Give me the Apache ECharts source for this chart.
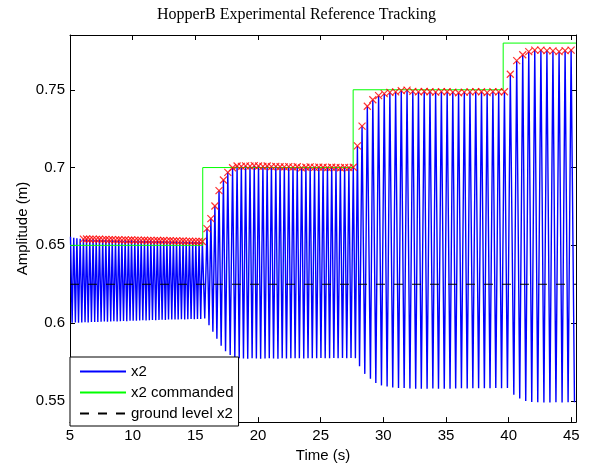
<!DOCTYPE html>
<html>
<head>
<meta charset="utf-8">
<script src="https://cdn.jsdelivr.net/npm/echarts@6/dist/echarts.min.js"></script>
<style>
  html, body { margin: 0; padding: 0; background: #ffffff; }
  #chart { width: 593px; height: 468px; }
</style>
</head>
<body>
<div id="chart"></div>
<script>
// ---- Axis ticks ----
const xTicks = [5, 10, 15, 20, 25, 30, 35, 40, 45];
const yTicks = [0.55, 0.6, 0.65, 0.7, 0.75];
const xStart = 5;
const xEnd = 45.37;
const yLow = 0.5364;
const yHigh = 0.7852;

// ---- Commanded height (step reference) ----
const cmdTimes  = [5, 15.59, 27.59, 39.56, 45.37];
const cmdLevels = [0.65, 0.70, 0.75, 0.78, 0.78];

// ---- Ground level ----
const groundLevel = 0.625;

// ---- Hop cycles, segment 1 (command 0.65) ----
const hop1PeakT = [5.04, 5.30, 5.55, 5.81, 6.07, 6.32, 6.58, 6.84, 7.09, 7.35,
  7.61, 7.86, 8.12, 8.37, 8.63, 8.89, 9.14, 9.40, 9.66, 9.91,
  10.17, 10.43, 10.68, 10.94, 11.20, 11.45, 11.71, 11.97, 12.22, 12.48,
  12.73, 12.99, 13.25, 13.50, 13.76, 14.02, 14.27, 14.53, 14.79, 15.04,
  15.30, 15.56];
const hop1PeakV = [0.6555, 0.6548, 0.6545, 0.6542, 0.6540, 0.6541, 0.6539, 0.6540, 0.6538, 0.6539,
  0.6537, 0.6538, 0.6536, 0.6537, 0.6535, 0.6536, 0.6534, 0.6535, 0.6533, 0.6535,
  0.6533, 0.6534, 0.6532, 0.6533, 0.6531, 0.6532, 0.6530, 0.6531, 0.6530, 0.6531,
  0.6529, 0.6530, 0.6528, 0.6529, 0.6527, 0.6528, 0.6526, 0.6527, 0.6526, 0.6525,
  0.6526, 0.6525];
const hop1TroughT = [5.17, 5.43, 5.68, 5.94, 6.20, 6.45, 6.71, 6.97, 7.22, 7.48,
  7.74, 7.99, 8.25, 8.50, 8.76, 9.02, 9.27, 9.53, 9.79, 10.04,
  10.30, 10.56, 10.81, 11.07, 11.33, 11.58, 11.84, 12.10, 12.35, 12.61,
  12.86, 13.12, 13.38, 13.63, 13.89, 14.15, 14.40, 14.66, 14.92, 15.17,
  15.43, 15.75];
const hop1TroughV = [0.6002, 0.6004, 0.6003, 0.6005, 0.6006, 0.6005, 0.6007, 0.6008, 0.6007, 0.6009,
  0.6010, 0.6009, 0.6011, 0.6012, 0.6011, 0.6013, 0.6014, 0.6013, 0.6015, 0.6016,
  0.6015, 0.6017, 0.6018, 0.6017, 0.6019, 0.6020, 0.6019, 0.6021, 0.6022, 0.6021,
  0.6023, 0.6024, 0.6023, 0.6024, 0.6025, 0.6024, 0.6025, 0.6026, 0.6025, 0.6026,
  0.6027, 0.6030];

// ---- Hop cycles, segment 2 (command 0.70) ----
const hop2PeakT = [15.93, 16.24, 16.56, 16.89, 17.24, 17.59, 17.97, 18.33,
  18.67, 19.01, 19.36, 19.70, 20.04, 20.39, 20.73, 21.07, 21.42, 21.76,
  22.10, 22.45, 22.79, 23.13, 23.48, 23.82, 24.16, 24.51, 24.85, 25.19,
  25.54, 25.88, 26.22, 26.57, 26.91, 27.25, 27.60];
const hop2PeakV = [0.6608, 0.6672, 0.6753, 0.6852, 0.6920, 0.6969, 0.6999, 0.7010,
  0.7008, 0.7011, 0.7009, 0.7012, 0.7010, 0.7008, 0.7010, 0.7006, 0.7008, 0.7005,
  0.7004, 0.7006, 0.7003, 0.7005, 0.6998, 0.7002, 0.7004, 0.7001, 0.7003, 0.7002,
  0.7000, 0.7002, 0.7001, 0.6999, 0.7001, 0.7000, 0.7002];
const hop2TroughT = [16.09, 16.40, 16.72, 17.06, 17.41, 17.78, 18.15, 18.50,
  18.84, 19.18, 19.53, 19.87, 20.21, 20.56, 20.90, 21.24, 21.59, 21.93,
  22.27, 22.62, 22.96, 23.30, 23.65, 23.99, 24.33, 24.68, 25.02, 25.36,
  25.71, 26.05, 26.39, 26.74, 27.08, 27.42, 27.77];
const hop2TroughV = [0.5987, 0.5944, 0.5900, 0.5855, 0.5820, 0.5795, 0.5780, 0.5774,
  0.5773, 0.5772, 0.5774, 0.5773, 0.5772, 0.5773, 0.5774, 0.5773, 0.5772, 0.5774,
  0.5773, 0.5774, 0.5775, 0.5774, 0.5773, 0.5775, 0.5774, 0.5775, 0.5776, 0.5775,
  0.5774, 0.5776, 0.5775, 0.5776, 0.5775, 0.5776, 0.5775];

// ---- Hop cycles, segment 3 (command 0.75) ----
const hop3PeakT = [27.93, 28.30, 28.72, 29.16, 29.62, 30.07, 30.52, 30.98, 31.43, 31.89,
  32.35, 32.80, 33.26, 33.72, 34.17, 34.63, 35.09, 35.54, 36.00, 36.46,
  36.91, 37.37, 37.83, 38.28, 38.74, 39.20, 39.66];
const hop3PeakV = [0.7139, 0.7266, 0.7394, 0.7436, 0.7462, 0.7475, 0.7483, 0.7486, 0.7494, 0.7498,
  0.7490, 0.7486, 0.7489, 0.7487, 0.7485, 0.7488, 0.7487, 0.7485, 0.7481, 0.7485,
  0.7486, 0.7488, 0.7487, 0.7482, 0.7488, 0.7486, 0.7487];
const hop3TroughT = [28.10, 28.52, 28.97, 29.40, 29.85, 30.30, 30.75, 31.21, 31.66, 32.12,
  32.58, 33.03, 33.49, 33.95, 34.40, 34.86, 35.32, 35.77, 36.23, 36.69,
  37.14, 37.60, 38.06, 38.51, 38.97, 39.43, 39.90];
const hop3TroughV = [0.5723, 0.5674, 0.5642, 0.5615, 0.5600, 0.5593, 0.5587, 0.5584, 0.5584, 0.5580,
  0.5579, 0.5578, 0.5579, 0.5580, 0.5579, 0.5578, 0.5579, 0.5580, 0.5581, 0.5580,
  0.5581, 0.5582, 0.5581, 0.5582, 0.5583, 0.5582, 0.5583];

// ---- Hop cycles, segment 4 (command 0.78) ----
const hop4PeakT = [40.13, 40.64, 41.12, 41.60, 42.08, 42.57, 43.05, 43.53, 44.02, 44.50, 44.98];
const hop4PeakV = [0.7600, 0.7687, 0.7725, 0.7745, 0.7755, 0.7755, 0.7752, 0.7750, 0.7745, 0.7752, 0.7755];
const hop4TroughT = [40.41, 40.88, 41.36, 41.84, 42.32, 42.81, 43.29, 43.77, 44.26, 44.74, 45.25];
const hop4TroughV = [0.5540, 0.5516, 0.5500, 0.5493, 0.5491, 0.5490, 0.5490, 0.5491, 0.5490, 0.5491, 0.5492];

// Peaks are flagged with a marker from this time on
const markFrom = 6.0;

// ---- Build series data ----
const segments = [
  [hop1PeakT, hop1PeakV, hop1TroughT, hop1TroughV],
  [hop2PeakT, hop2PeakV, hop2TroughT, hop2TroughV],
  [hop3PeakT, hop3PeakV, hop3TroughT, hop3TroughV],
  [hop4PeakT, hop4PeakV, hop4TroughT, hop4TroughV]
];

const x2Data = [];
const peakMarks = [];
segments.forEach(([pt, pv, tt, tv]) => {
  for (let i = 0; i < pt.length; i++) {
    x2Data.push([pt[i], pv[i]]);
    x2Data.push([tt[i], tv[i]]);
    if (pt[i] >= markFrom) peakMarks.push([pt[i], pv[i]]);
  }
});

const cmdData = cmdTimes.map((t, i) => [t, cmdLevels[i]]);
const groundData = [[xStart, groundLevel], [xEnd, groundLevel]];

const SANS = 'Liberation Sans, Arial, Helvetica, sans-serif';
const SERIF = 'Liberation Serif, Times New Roman, serif';
const AXIS_COLOR = '#000000';
const BLUE = '#0000ff';
const GREEN = '#00ff00';
const BLACK = '#000000';

const chart = echarts.init(document.getElementById('chart'), null, { renderer: 'canvas' });

function boxAxis(extra) {
  return Object.assign({
    type: 'value',
    axisLine: { show: true, onZero: false, lineStyle: { color: AXIS_COLOR, width: 1 } },
    splitLine: { show: false }
  }, extra);
}

chart.setOption({
  animation: false,
  backgroundColor: '#ffffff',
  title: {
    text: 'HopperB Experimental Reference Tracking',
    left: 'center',
    top: 2,
    textStyle: { fontFamily: SERIF, fontSize: 16, fontWeight: 'normal', color: '#000' }
  },
  grid: { left: 70, top: 35, width: 506, height: 390, containLabel: false },
  xAxis: [
    boxAxis({
      min: xStart, max: xEnd, position: 'bottom',
      axisTick: { show: true, inside: true, length: 5, customValues: xTicks, lineStyle: { color: AXIS_COLOR } },
      axisLabel: { show: true, customValues: xTicks, margin: 6, color: '#000', fontSize: 15, fontFamily: SANS },
      name: 'Time (s)', nameLocation: 'middle', nameGap: 23,
      nameTextStyle: { color: '#000', fontSize: 15, fontFamily: SANS }
    }),
    boxAxis({
      min: xStart, max: xEnd, position: 'top',
      axisTick: { show: true, inside: true, length: 5, customValues: xTicks, lineStyle: { color: AXIS_COLOR } },
      axisLabel: { show: false }
    })
  ],
  yAxis: [
    boxAxis({
      min: yLow, max: yHigh, position: 'left',
      axisTick: { show: true, inside: true, length: 5, customValues: yTicks, lineStyle: { color: AXIS_COLOR } },
      axisLabel: { show: true, customValues: yTicks, margin: 5, color: '#000', fontSize: 15, fontFamily: SANS },
      name: 'Amplitude (m)', nameLocation: 'middle', nameGap: 40, nameMoveOverlap: false,
      nameTextStyle: { color: '#000', fontSize: 15, fontFamily: SANS }
    }),
    boxAxis({
      min: yLow, max: yHigh, position: 'right',
      axisTick: { show: true, inside: true, length: 5, customValues: yTicks, lineStyle: { color: AXIS_COLOR } },
      axisLabel: { show: false }
    })
  ],
  legend: {
    orient: 'vertical',
    left: 70,
    top: 357,
    padding: [7, 5, 5, 9],
    itemWidth: 46,
    itemHeight: 14,
    itemGap: 6,
    itemStyle: { opacity: 0 },
    backgroundColor: '#ffffff',
    borderColor: '#000000',
    borderWidth: 1,
    borderRadius: 0,
    data: ['x2', 'x2 commanded', 'ground level x2'],
    textStyle: { color: '#000', fontSize: 15, fontFamily: SANS },
    z: 10
  },
  series: [
    {
      name: 'x2',
      type: 'line',
      data: x2Data,
      symbol: 'none',
      lineStyle: { color: BLUE, width: 1.4 },
      itemStyle: { color: BLUE },
      z: 2
    },
    {
      name: 'x2 commanded',
      type: 'line',
      data: cmdData,
      step: 'end',
      symbol: 'none',
      lineStyle: { color: GREEN, width: 1 },
      itemStyle: { color: GREEN },
      z: 3
    },
    {
      name: 'ground level x2',
      type: 'line',
      data: groundData,
      symbol: 'none',
      lineStyle: { color: BLACK, width: 1, type: [9, 9] },
      itemStyle: { color: BLACK },
      z: 4
    },
    {
      name: 'peaks',
      type: 'scatter',
      data: peakMarks,
      symbol: 'path://M0,0L10,10M10,0L0,10',
      symbolSize: 7,
      itemStyle: { color: '#ff0000', borderColor: '#ff0000', borderWidth: 1.2 },
      z: 5
    }
  ]
});
</script>
</body>
</html>
